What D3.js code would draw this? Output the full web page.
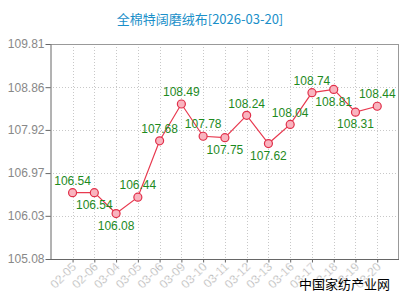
<!DOCTYPE html>
<html><head><meta charset="utf-8">
<script src="https://cdn.jsdelivr.net/npm/d3@7"></script>
<style>body{margin:0;background:#fff}svg{display:block}</style>
</head><body>
<script>
const title = "全棉特阔磨绒布[2026-03-20]";
const categories = ["02-05","02-06","03-04","03-05","03-06","03-09","03-10","03-11","03-12","03-13","03-16","03-17","03-18","03-19","03-20"];
const values = [106.54,106.54,106.08,106.44,107.68,108.49,107.78,107.75,108.24,107.62,108.04,108.74,108.81,108.31,108.44];
const labelPlacement = ["above","below","below","above","above","above","above","below","above","below","above","above","below","below","above"];
const yTicks = [105.08,106.03,106.97,107.92,108.86,109.81];
const watermark = "中国家纺产业网";

const W=400,H=300;
const m={l:50,t:44,r:399,b:259};
const svg=d3.select("body").append("svg").attr("width",W).attr("height",H);
const x=d3.scalePoint().domain(categories).range([m.l+0.8,m.r]).padding(1);
const y=d3.scaleLinear().domain([105.08,109.81]).range([m.b,m.t]);
const font="Arial, 'Liberation Sans', sans-serif";

svg.append("text").attr("x",200).attr("y",24).attr("text-anchor","middle")
  .attr("font-family","'Noto Sans CJK SC', sans-serif").attr("font-size",13).attr("fill","#1a8fc9").text(title);

// grid
const g=svg.append("g");
g.selectAll(".vg").data(categories).join("line")
  .attr("x1",d=>Math.round(x(d))+0.5).attr("x2",d=>Math.round(x(d))+0.5).attr("y1",m.t).attr("y2",m.b)
  .attr("stroke","#c8c8c8").attr("stroke-dasharray","1,2");
g.selectAll(".hg").data(yTicks.slice(1,-1)).join("line")
  .attr("y1",d=>Math.round(y(d))+0.5).attr("y2",d=>Math.round(y(d))+0.5).attr("x1",m.l).attr("x2",m.r)
  .attr("stroke","#c8c8c8").attr("stroke-dasharray","1,2");
// border
svg.append("line").attr("x1",m.l).attr("x2",m.r).attr("y1",m.t+0.5).attr("y2",m.t+0.5).attr("stroke","#999");
svg.append("line").attr("x1",m.r-0.5).attr("x2",m.r-0.5).attr("y1",m.t).attr("y2",m.b).attr("stroke","#999");

// y axis
const ya=svg.append("g").attr("transform",`translate(${m.l+0.5},0)`)
  .call(d3.axisLeft(y).tickValues(yTicks).tickSize(5).tickSizeOuter(0).tickFormat(d3.format(".2f")));
ya.select(".domain").attr("stroke","#666");
ya.selectAll(".tick line").attr("stroke","#666");
ya.selectAll("text").attr("font-family",font).attr("font-size",12).attr("fill","#888").attr("x",-6);

// x axis
const xa=svg.append("g").attr("transform",`translate(0,${m.b+0.5})`)
  .call(d3.axisBottom(x).tickSize(3).tickSizeOuter(0));
xa.select(".domain").attr("stroke","#666").attr("d",`M${m.l},0H${m.r}`);
xa.selectAll(".tick line").attr("stroke","#666");
xa.selectAll("text").attr("font-family",font).attr("font-size",12).attr("fill","#999")
  .attr("stroke","#fff").attr("stroke-width",0.4)
  .attr("text-anchor","end").attr("dy",0).attr("y",0)
  .attr("transform","translate(4,8) rotate(-45)");

// line
const line=d3.line().x((d,i)=>x(categories[i])).y(d=>y(d));
svg.append("path").datum(values).attr("d",line).attr("fill","none").attr("stroke","#e8394f").attr("stroke-width",1.2);
svg.selectAll(".pt").data(values).join("circle")
  .attr("cx",(d,i)=>x(categories[i])).attr("cy",d=>y(d)).attr("r",4)
  .attr("fill","#f9b4bf").attr("stroke","#e0304a").attr("stroke-width",1.2);
svg.selectAll(".lb").data(values).join("text")
  .attr("x",(d,i)=>x(categories[i])).attr("y",(d,i)=>y(d)+(labelPlacement[i]==="above"?-12:12))
  .attr("dy","0.35em").attr("text-anchor","middle")
  .attr("font-family",font).attr("font-size",12).attr("fill","#1e8a1e").text(d=>d.toFixed(2));

svg.append("text").attr("x",390).attr("y",289).attr("text-anchor","end")
  .attr("font-family","'Noto Sans CJK SC', sans-serif").attr("font-size",13).attr("fill","#000").text(watermark);
</script>
</body></html>
